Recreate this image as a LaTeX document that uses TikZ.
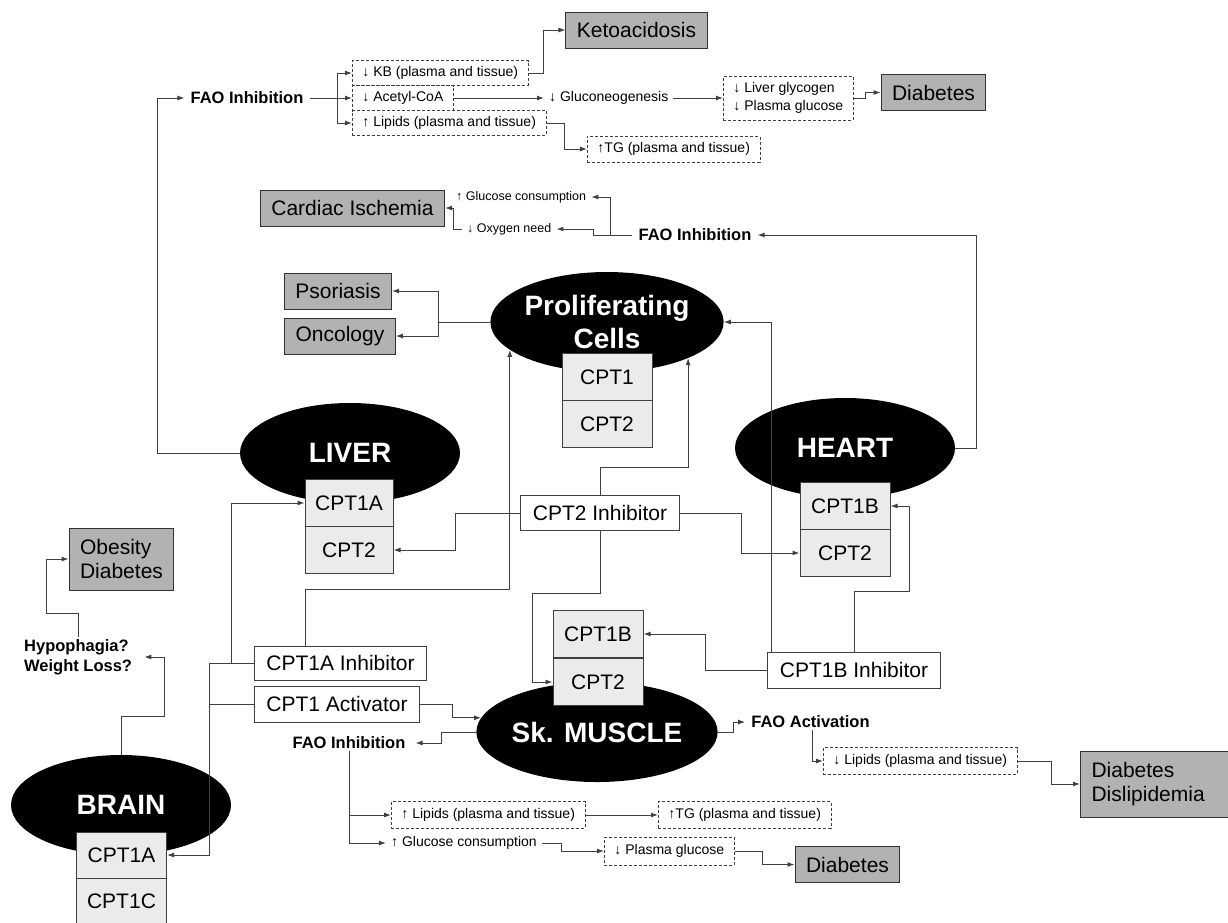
\documentclass[tikz,border=0pt]{standalone}
\usepackage{fontspec}
\setmainfont{Liberation Sans}
\usetikzlibrary{arrows.meta,shapes.geometric,calc}

\begin{document}
\begin{tikzpicture}[x=1pt,y=-1pt,
  dis/.style={draw=black!80,fill=black!30,line width=1pt,inner xsep=11pt,inner ysep=0pt,minimum height=36,font=\fontsize{21}{24}\selectfont},
  cpt/.style={draw=black!75,fill=black!8,line width=1pt,minimum width=90,minimum height=47,inner sep=0pt,font=\fontsize{21}{24}\selectfont},
  organ/.style={ellipse,fill=black,text=white,minimum width=220,minimum height=100,inner sep=0pt,align=center,font=\bfseries\fontsize{28}{33}\selectfont},
  drug/.style={draw=black!75,fill=white,line width=1pt,inner xsep=12pt,inner ysep=0pt,minimum height=35,font=\fontsize{21}{24}\selectfont},
  eff/.style={draw=black!75,line width=0.9pt,dash pattern=on 3pt off 2pt,inner xsep=10pt,inner ysep=0pt,minimum height=25,anchor=west,font=\fontsize{14}{18}\selectfont},
  lbl/.style={inner xsep=5pt,inner ysep=1pt,anchor=west,font=\fontsize{14}{17}\selectfont},
  fao/.style={inner xsep=6pt,inner ysep=2pt,font=\bfseries\fontsize{16.5}{20}\selectfont},
  line/.style={draw=black!75,line width=1pt},
  link/.style={line,-{Latex[length=7pt,width=5pt]}}]
\useasboundingbox (0,0) rectangle (1228,922);

% liver side, top
\node[dis] (keto) at (636.5,30) {Ketoacidosis};
\node[fao] (fao1) at (247,98) {FAO Inhibition};
\node[eff] (kb) at (352,73) {↓ KB (plasma and tissue)};
\node[eff] (acetyl) at (352,98) {↓ Acetyl-CoA};
\node[eff] (lip1) at (352,123) {↑ Lipids (plasma and tissue)};
\node[lbl] (gluco) at (544,98) {↓ Gluconeogenesis};
\node[eff,minimum height=44,align=left] (lg) at (723,98) {↓ Liver glycogen\\↓ Plasma glucose};
\node[dis] (dia1) at (933.5,92.5) {Diabetes};
\node[eff,minimum height=26] (tg1) at (587,149) {↑TG (plasma and tissue)};

% heart side, top
\node[dis] (cardiac) at (352.5,208) {Cardiac Ischemia};
\node[lbl,font=\fontsize{12.5}{15}\selectfont] (gluc2) at (451,197) {↑ Glucose consumption};
\node[lbl,font=\fontsize{12.5}{15}\selectfont] (oxy) at (462,229) {↓ Oxygen need};
\node[fao] (fao2) at (695,235) {FAO Inhibition};

% organs
\node[dis] (psor) at (338,291) {Psoriasis};
\node[dis] (onco) at (340,336) {Oncology};
\node[organ] (prolif) at (607,322) {Proliferating\\Cells};
\node[cpt] (pcpt1) at (607,377) {CPT1};
\node[cpt] (pcpt2) at (607,424) {CPT2};
\node[organ] (liver) at (350,453) {LIVER};
\node[cpt,minimum width=88] (lcpt1a) at (349,503) {CPT1A};
\node[cpt,minimum width=88] (lcpt2) at (349,550) {CPT2};
\node[organ] (heart) at (845,448) {HEART};
\node[cpt] (hcpt1b) at (845,506) {CPT1B};
\node[cpt] (hcpt2) at (845,553) {CPT2};
\node[organ] (muscle) at (597,732) {Sk. MUSCLE};
\node[cpt] (mcpt1b) at (598,634) {CPT1B};
\node[cpt] (mcpt2) at (598,682) {CPT2};
\node[organ] (brain) at (121,805) {BRAIN};
\node[cpt,minimum height=46] (bcpt1a) at (121.5,855) {CPT1A};
\node[cpt,minimum height=46] (bcpt1c) at (121.5,901) {CPT1C};

% drugs
\node[drug] (i2) at (600,513) {CPT2 Inhibitor};
\node[drug,minimum height=34] (i1a) at (340.5,663) {CPT1A Inhibitor};
\node[drug,minimum height=36] (act) at (337,704) {CPT1 Activator};
\node[drug,minimum height=36] (i1b) at (854,670) {CPT1B Inhibitor};

% brain and muscle effects
\node[fao,inner xsep=12pt,align=left,anchor=west] (hypo) at (12,657) {Hypophagia?\\Weight Loss?};
\node[dis,minimum height=62,align=left] (obes) at (121.5,559) {Obesity\\Diabetes};
\node[fao,inner xsep=10pt] (fao3) at (349,743) {FAO Inhibition};
\node[fao] (fao4) at (810.5,722) {FAO Activation};
\node[eff,minimum height=27] (lip3) at (823,761) {↓ Lipids (plasma and tissue)};
\node[dis,minimum height=66,text width=138,align=left,anchor=west] (dd) at (1080,784) {Diabetes\\Dislipidemia};
\node[eff,minimum height=27] (lip2) at (391,815) {↑ Lipids (plasma and tissue)};
\node[eff,minimum height=27] (tg2) at (658,815) {↑TG (plasma and tissue)};
\node[lbl] (gluc3) at (386,843) {↑ Glucose consumption};
\node[eff,minimum height=28] (pg) at (604,851) {↓ Plasma glucose};
\node[dis] (dia3) at (847.5,864.5) {Diabetes};

% connectors
\draw[link] (liver.west) -- ++(-82,0) |- (fao1.west);
\draw[line] (fao1.east) -- ++(28,0) coordinate (f1);
\draw[link] (f1) |- (kb.west);
\draw[link] (f1) -- (acetyl.west);
\draw[link] (f1) |- (lip1.west);
\draw[link] (kb.east) -- ++(15,0) |- (keto.west);
\draw[link] (acetyl.east) -- (gluco.west);
\draw[link] (gluco.east) -- (lg.west);
\draw[link] (lg.east) -- ++(12,0) |- (dia1.west);
\draw[link] (lip1.east) -- ++(18,0) |- (tg1.west);

\draw[link] (heart.east) -- ++(21,0) |- (fao2.east);
\draw[line] (fao2.west) -- ++(-22,0) coordinate (f2);
\draw[link] (f2) |- (gluc2.east);
\draw[link] (f2) -- ++(-17,0) |- (oxy.east);
\draw[link] (oxy.west) -- ++(-9,0) |- (cardiac.east);

\draw[line] (prolif.west) -- ++(-52,0) coordinate (p1);
\draw[link] (p1) |- (psor.east);
\draw[link] (p1) |- (onco.east);

\draw[link] ([xshift=-35pt]i1a.north) -- ++(0,-56) -| (prolif.196);
\draw[link] (i2.north) -- ++(0,-28) -| (prolif.336);
\draw[link] (i2.west) -- ++(-65,0) |- (lcpt2.east);
\draw[link] (i2.east) -- ++(62,0) |- (hcpt2.west);
\draw[link] (i2.south) -- ++(0,62) -- ++(-68,0) |- (mcpt2.west);
\draw[link] (i1b.west) -- ++(-62,0) |- (mcpt1b.east);
\draw[link] ([xshift=4pt]i1b.north west) |- (prolif.east);
\draw[link] (i1b.north) -- ++(0,-60) -- ++(55,0) |- (hcpt1b.east);

\draw[line] (i1a.west) -- ++(-44,0) coordinate (j1);
\draw[link] ([xshift=22pt]j1) |- (lcpt1a.west);
\draw[link] (j1) |- (bcpt1a.east);
\draw[line] (act.west) -- (act.west -| j1);
\draw[link] (act.east) -- ++(32,0) |- (muscle.173);

\draw[link] (muscle.west) -- ++(-35,0) |- (fao3.east);
\draw[link] (muscle.east) -- ++(16,0) |- (fao4.west);
\draw[link] ([xshift=2pt]fao4.south) |- (lip3.west);
\draw[link] (lip3.east) -- ++(34,0) |- (dd.west);
\draw[link] (fao3.south) |- (lip2.west);
\draw[link] (fao3.south) |- (gluc3.west);
\draw[link] (lip2.east) -- (tg2.west);
\draw[link] (gluc3.east) -- ++(20,0) |- (pg.west);
\draw[link] (pg.east) -- ++(28,0) |- (dia3.west);

\draw[link] (brain.north) -- ++(0,-38) -- ++(43,0) |- (hypo.east);
\draw[link] (hypo.north) -- ++(0,-24) -- ++(-32,0) |- (obes.west);
\end{tikzpicture}
\end{document}
